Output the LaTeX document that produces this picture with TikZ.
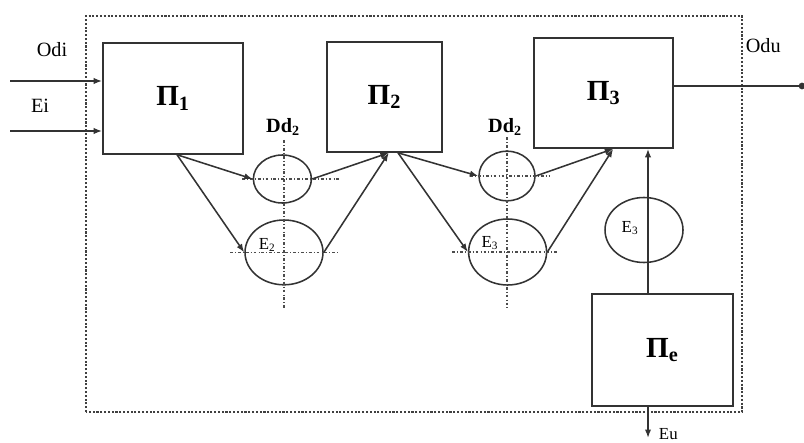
\documentclass[tikz,border=0pt]{standalone}
\usepackage{amsmath}
\usepackage{fontspec}
\setmainfont{Liberation Serif}
\usetikzlibrary{shapes.geometric,arrows.meta}

\newcommand{\proc}[1]{\textbf{Π\textsubscript{#1}}}

\begin{document}
\begin{tikzpicture}[>={Latex[length=6pt,width=4.5pt]}]
        \useasboundingbox (0,0) rectangle (20.1,11.05);
        % system frame
        \draw[black!75, line width=1pt, dash pattern=on 1.5pt off 1.2pt] (2.15,0.75) rectangle (18.55,10.65);
        \begin{scope}[every node/.style={line width=1.2pt, draw=black!80, rectangle, inner sep=0, font=\huge}]
                \node[minimum width=3.5cm, minimum height=2.775cm] (P1) at (4.325,8.59) {\proc{1}};
                \node[minimum width=2.875cm, minimum height=2.75cm] (P2) at (9.61,8.625) {\proc{2}};
                \node[minimum width=3.475cm, minimum height=2.75cm] (P3) at (15.09,8.725) {\proc{3}};
                \node[minimum width=3.525cm, minimum height=2.8cm] (Pe) at (16.56,2.3) {\proc{e}};
        \end{scope}
        \begin{scope}[every node/.style={line width=1.1pt, draw=black!80, ellipse, inner sep=0}]
                \node[minimum width=1.45cm, minimum height=1.2cm] (Dd1) at (7.06,6.575) {};
                \node[minimum width=1.95cm, minimum height=1.62cm] (E2) at (7.1,4.74) {};
                \node[minimum width=1.4cm, minimum height=1.24cm] (Dd2) at (12.675,6.65) {};
                \node[minimum width=1.95cm, minimum height=1.65cm] (E3) at (12.69,4.75) {};
                \node[minimum width=1.95cm, minimum height=1.625cm] (E3e) at (16.1,5.3) {};
        \end{scope}
        % axes through the circles
        \begin{scope}[black!70, line width=1pt, dash pattern=on 2pt off 1.5pt on 0.6pt off 1.5pt]
                \draw (7.1,7.55) -- (7.1,3.3);
                \draw (6.05,6.575) -- (8.5,6.575);
                \draw (5.75,4.74) -- (8.5,4.74);
                \draw (12.675,7.62) -- (12.675,3.3);
                \draw (11.75,6.65) -- (13.75,6.65);
                \draw (11.3,4.75) -- (13.925,4.75);
        \end{scope}
        \begin{scope}[every node/.style={font=\Large}]
                \node (Odi) at (1.3,9.8) {Odi};
                \node (Ei) at (1.0,8.4) {Ei};
                \node (Odu) at (19.08,9.92) {Odu};
                \node (Dl1) at (7.075,7.88) {\textbf{Dd\textsubscript{2}}};
                \node (Dl2) at (12.625,7.88) {\textbf{Dd\textsubscript{2}}};
        \end{scope}
        \begin{scope}[every node/.style={font=\large}]
                \node (El2) at (6.68,4.93) {E\textsubscript{2}};
                \node (El3) at (12.25,4.97) {E\textsubscript{3}};
                \node (El3e) at (15.75,5.35) {E\textsubscript{3}};
                \node[anchor=west] (Eu) at (16.35,0.2) {Eu};
        \end{scope}
        \coordinate (odi) at (0.25,9.025);
        \coordinate (ei) at (0.25,7.775);
        \coordinate (odu) at (20.05,8.9);
        \coordinate (eline) at (16.2,0);
        \coordinate (eu) at (16.2,0.1);
        \begin{scope}[every path/.style={line width=1.1pt, black!80, ->}]
                \path (odi) edge (odi -| P1.west);
                \path (ei) edge (ei -| P1.west);
                \path ([xshift=0.1cm]P1.south) edge (Dd1.west);
                \path ([xshift=0.1cm]P1.south) edge (E2.west);
                \path (Dd1.east) edge ([xshift=0.11cm]P2.south);
                \path (E2.east) edge ([xshift=0.11cm]P2.south);
                \path ([xshift=0.34cm]P2.south) edge (Dd2.west);
                \path ([xshift=0.34cm]P2.south) edge (E3.west);
                \path (Dd2.east) edge ([xshift=0.24cm]P3.south);
                \path (E3.east) edge ([xshift=0.24cm]P3.south);
                \path (Pe.north -| eline) edge (P3.south -| eline);
                \path (Pe.south -| eline) edge (eu);
        \end{scope}
        \draw[line width=1.1pt, black!80] (P3.east |- odu) -- (odu);
        \fill[black!80] (odu) circle (2.4pt);
\end{tikzpicture}
\end{document}
